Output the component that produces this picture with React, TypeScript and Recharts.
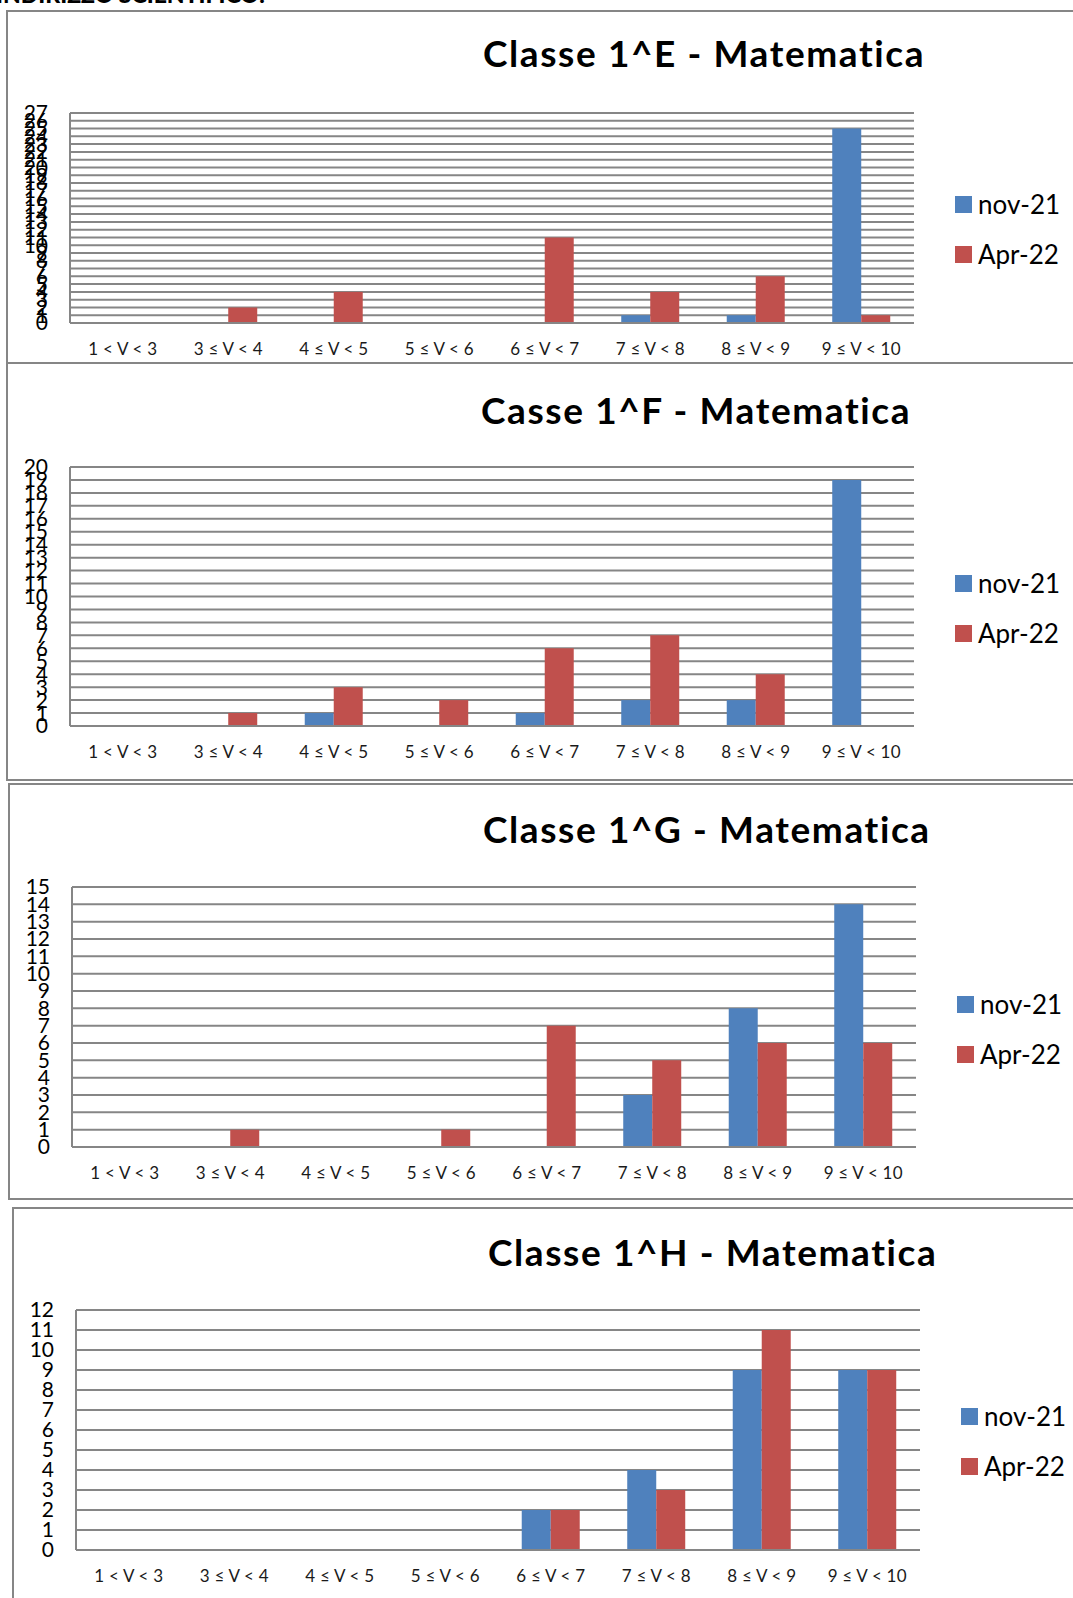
import { Bar, BarChart, CartesianGrid, XAxis, YAxis } from "recharts";

const categories = [
  "1 < V < 3",
  "3 ≤ V < 4",
  "4 ≤ V < 5",
  "5 ≤ V < 6",
  "6 ≤ V < 7",
  "7 ≤ V < 8",
  "8 ≤ V < 9",
  "9 ≤ V < 10",
];

const seriesNames = ["nov-21", "Apr-22"];

// Classe 1^E
const nov21E = [0, 0, 0, 0, 0, 1, 1, 25];
const apr22E = [0, 2, 4, 0, 11, 4, 6, 1];
const ticksE = [0, 1, 2, 3, 4, 5, 6, 7, 8, 9, 10, 11, 12, 13, 14, 15, 16, 17, 18, 19, 20, 21, 22, 23, 24, 25, 26, 27];

// Casse 1^F
const nov21F = [0, 0, 1, 0, 1, 2, 2, 19];
const apr22F = [0, 1, 3, 2, 6, 7, 4, 0];
const ticksF = [0, 1, 2, 3, 4, 5, 6, 7, 8, 9, 10, 11, 12, 13, 14, 15, 16, 17, 18, 19, 20];

// Classe 1^G
const nov21G = [0, 0, 0, 0, 0, 3, 8, 14];
const apr22G = [0, 1, 0, 1, 7, 5, 6, 6];
const ticksG = [0, 1, 2, 3, 4, 5, 6, 7, 8, 9, 10, 11, 12, 13, 14, 15];

// Classe 1^H
const nov21H = [0, 0, 0, 0, 2, 4, 9, 9];
const apr22H = [0, 0, 0, 0, 2, 3, 11, 9];
const ticksH = [0, 1, 2, 3, 4, 5, 6, 7, 8, 9, 10, 11, 12];

const BLUE = "#4F81BD";
const RED = "#C0504D";
const GRID = "#868686";
const FONT = "Lato, 'Open Sans', sans-serif";

const buildRows = (nov: number[], apr: number[]) =>
  categories.map((c, i) => ({ cat: c, nov: nov[i], apr: apr[i] }));

interface Layout {
  box: { left: number; top: number; height: number; noTop?: boolean };
  plot: { left: number; right: number; top: number; bottom: number };
  title: { left: number; top: number };
  legend: { left: number; top: number };
}

const XTick = (props: any) => {
  const { x, y, payload } = props;
  return (
    <text x={x} y={y} dy={16} textAnchor="middle" fill="#1a1a1a" fontSize={17} fontFamily={FONT} letterSpacing={0.2}>
      {payload.value}
    </text>
  );
};

function Panel({ title, nov, apr, ticks, layout }: { title: string; nov: number[]; apr: number[]; ticks: number[]; layout: Layout }) {
  const { box, plot } = layout;
  const plotH = plot.bottom - plot.top;
  const topPad = 20;
  const xAxisH = 50;
  return (
    <>
      <div
        style={{
          position: "absolute",
          left: box.left,
          top: box.top,
          width: 1200,
          height: box.height,
          borderLeft: `2px solid ${GRID}`,
          borderTop: box.noTop ? "none" : `2px solid ${GRID}`,
          borderBottom: `2px solid ${GRID}`,
          boxSizing: "border-box",
        }}
      />
      <div
        style={{
          position: "absolute",
          left: layout.title.left,
          top: layout.title.top,
          fontFamily: FONT,
          fontWeight: 700,
          fontSize: 37,
          letterSpacing: 1.6,
          lineHeight: "40px",
          whiteSpace: "nowrap",
          color: "#000",
        }}
      >
        {title}
      </div>
      <div style={{ position: "absolute", left: 0, top: plot.top - topPad }}>
        <BarChart
          width={1073}
          height={topPad + plotH + xAxisH}
          data={buildRows(nov, apr)}
          margin={{ top: topPad, right: 1073 - plot.right, bottom: 0, left: 0 }}
          barCategoryGap="22.5%"
          barGap={0}
        >
          <CartesianGrid vertical={false} stroke={GRID} strokeWidth={2} />
          <XAxis
            dataKey="cat"
            height={xAxisH}
            axisLine={{ stroke: GRID, strokeWidth: 2 }}
            tickLine={false}
            tickSize={0}
            tickMargin={16}
            interval={0}
            tick={<XTick />}
          />
          <YAxis
            width={plot.left}
            domain={[0, ticks[ticks.length - 1]]}
            ticks={ticks}
            interval={0}
            axisLine={{ stroke: GRID, strokeWidth: 2 }}
            tickLine={false}
            tickSize={0}
            tickMargin={22}
            tick={{ fill: "#000", fontSize: 21, fontFamily: FONT }}
          />
          <Bar dataKey="nov" name={seriesNames[0]} fill={BLUE} isAnimationActive={false} />
          <Bar dataKey="apr" name={seriesNames[1]} fill={RED} isAnimationActive={false} />
        </BarChart>
      </div>
      <div style={{ position: "absolute", left: layout.legend.left, top: layout.legend.top, fontFamily: FONT, fontSize: 26, color: "#000" }}>
        {[BLUE, RED].map((c, i) => (
          <div key={i} style={{ display: "flex", alignItems: "center", height: 50 }}>
            <span style={{ display: "inline-block", width: 17, height: 17, background: c, marginRight: 6 }} />
            <span>{seriesNames[i]}</span>
          </div>
        ))}
      </div>
    </>
  );
}

const layoutE: Layout = {
  box: { left: 6, top: 10, height: 354 },
  plot: { left: 70, right: 914, top: 113, bottom: 323 },
  title: { left: 483, top: 33 },
  legend: { left: 955, top: 179 },
};
const layoutF: Layout = {
  box: { left: 6, top: 362, height: 419, noTop: true },
  plot: { left: 70, right: 914, top: 467, bottom: 726 },
  title: { left: 481, top: 390 },
  legend: { left: 955, top: 558 },
};
const layoutG: Layout = {
  box: { left: 8, top: 783, height: 417 },
  plot: { left: 72, right: 916, top: 887, bottom: 1147 },
  title: { left: 483, top: 809 },
  legend: { left: 957, top: 979 },
};
const layoutH: Layout = {
  box: { left: 12, top: 1207, height: 420 },
  plot: { left: 76, right: 920, top: 1310, bottom: 1550 },
  title: { left: 488, top: 1232 },
  legend: { left: 961, top: 1391 },
};

export default function App() {
  return (
    <div style={{ position: "absolute", left: 0, top: 0, width: 1073, height: 1598, overflow: "hidden", background: "#fff" }}>
      <div
        style={{
          position: "absolute",
          left: -4,
          top: -17,
          fontFamily: FONT,
          fontWeight: 900,
          fontSize: 23,
          lineHeight: 1,
          whiteSpace: "nowrap",
          color: "#000",
        }}
      >
        INDIRIZZO SCIENTIFICO:
      </div>
      <Panel title="Classe 1^E - Matematica" nov={nov21E} apr={apr22E} ticks={ticksE} layout={layoutE} />
      <Panel title="Casse 1^F - Matematica" nov={nov21F} apr={apr22F} ticks={ticksF} layout={layoutF} />
      <Panel title="Classe 1^G - Matematica" nov={nov21G} apr={apr22G} ticks={ticksG} layout={layoutG} />
      <Panel title="Classe 1^H - Matematica" nov={nov21H} apr={apr22H} ticks={ticksH} layout={layoutH} />
    </div>
  );
}
